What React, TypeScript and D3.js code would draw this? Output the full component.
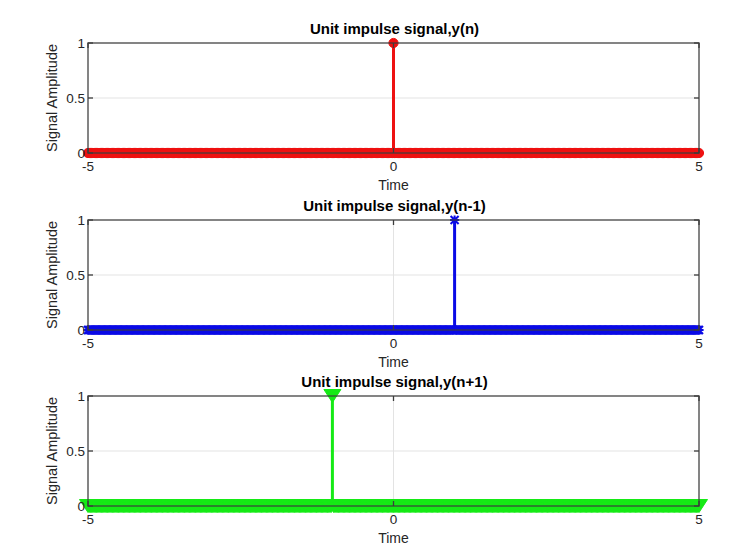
import * as d3 from 'd3';
import React from 'react';

// sample times and where each impulse sits
const timeStep = 0.02;
const timeSamples = d3.range(-5, 5 + timeStep / 2, timeStep).map((t) => Math.round(t * 100) / 100);
const impulseAt = [0, 1, -1];
const titles = ['Unit impulse signal,y(n)', 'Unit impulse signal,y(n-1)', 'Unit impulse signal,y(n+1)'];
const colors = ['#ee1111', '#0a0ae6', '#16ea16'];
const markers = ['circle', 'asterisk', 'triangle'];
const xTicks = [-5, 0, 5];
const yTicks = [0, 0.5, 1];
const yTickLabels = ['0', '0.5', '1'];

const W = 745;
const H = 551;
const axLeft = 88;
const axRight = 699;
const axTops = [43, 220, 396];
const axHeight = 110;
const font = '"Liberation Sans", Arial, sans-serif';
const axisColor = '#3c3c3c';

const Marker = ({ kind, x, y, color }) => {
  if (kind === 'circle') return <circle cx={x} cy={y} r={4.6} fill={color} stroke={color} strokeWidth={1} />;
  if (kind === 'triangle') {
    const w = 8.5, h = 6.5;
    return <path d={`M${x - w},${y - h}L${x + w},${y - h}L${x},${y + h}Z`} fill={color} stroke={color} strokeWidth={1} />;
  }
  const s = 4;
  return (
    <path
      d={`M${x - s},${y - s}L${x + s},${y + s}M${x - s},${y + s}L${x + s},${y - s}M${x},${y - s - 0.6}L${x},${y + s + 0.6}M${x - s - 0.6},${y}L${x + s + 0.6},${y}`}
      stroke={color}
      strokeWidth={2}
      fill="none"
    />
  );
};

const Panel = ({ idx }) => {
  const top = axTops[idx];
  const bottom = top + axHeight;
  const x = d3.scaleLinear().domain([-5, 5]).range([axLeft, axRight]);
  const y = d3.scaleLinear().domain([0, 1]).range([bottom, top]);
  const color = colors[idx];
  const values = timeSamples.map((t) => (Math.abs(t - impulseAt[idx]) < 1e-9 ? 1 : 0));
  const tickLen = 5;
  return (
    <g>
      {/* grid */}
      {xTicks.map((t) => (
        <line key={'gx' + t} x1={x(t)} x2={x(t)} y1={top} y2={bottom} stroke="#e3e3e3" strokeWidth={1} />
      ))}
      {yTicks.map((t) => (
        <line key={'gy' + t} x1={axLeft} x2={axRight} y1={y(t)} y2={y(t)} stroke="#e3e3e3" strokeWidth={1} />
      ))}
      {/* stems */}
      {timeSamples.map((t, i) =>
        values[i] !== 0 ? (
          <line key={'s' + i} x1={x(t)} x2={x(t)} y1={y(0)} y2={y(values[i])} stroke={color} strokeWidth={3} />
        ) : null
      )}
      {timeSamples.map((t, i) => (
        <Marker key={'m' + i} kind={markers[idx]} x={x(t)} y={y(values[i])} color={color} />
      ))}
      {/* box and ticks */}
      <rect x={axLeft} y={top} width={axRight - axLeft} height={axHeight} fill="none" stroke={axisColor} strokeWidth={1.5} strokeOpacity={0.8} />
      {xTicks.map((t) => (
        <g key={'tx' + t}>
          <line x1={x(t)} x2={x(t)} y1={bottom} y2={bottom - tickLen} stroke={axisColor} strokeWidth={1.3} />
          <line x1={x(t)} x2={x(t)} y1={top} y2={top + tickLen} stroke={axisColor} strokeWidth={1.3} />
          <text x={x(t)} y={bottom + 18} textAnchor="middle" fontSize={13.5} fill="#262626" fontFamily={font}>
            {t}
          </text>
        </g>
      ))}
      {yTicks.map((t, i) => (
        <g key={'ty' + t}>
          <line x1={axLeft} x2={axLeft + tickLen} y1={y(t)} y2={y(t)} stroke={axisColor} strokeWidth={1.3} />
          <line x1={axRight} x2={axRight - tickLen} y1={y(t)} y2={y(t)} stroke={axisColor} strokeWidth={1.3} />
          <text x={axLeft - 3} y={y(t) + 4.5} textAnchor="end" fontSize={13.5} fill="#262626" fontFamily={font}>
            {yTickLabels[i]}
          </text>
        </g>
      ))}
      <text x={(axLeft + axRight) / 2 + 1} y={top - 9} textAnchor="middle" fontSize={15} fontWeight="bold" fill="#000" fontFamily={font}>
        {titles[idx]}
      </text>
      <text x={(axLeft + axRight) / 2} y={bottom + 37} textAnchor="middle" fontSize={14} fill="#262626" fontFamily={font}>
        Time
      </text>
      <text
        transform={`translate(57,${(top + bottom) / 2}) rotate(-90)`}
        textAnchor="middle"
        fontSize={14.5}
        fill="#262626"
        fontFamily={font}
      >
        Signal Amplitude
      </text>
    </g>
  );
};

const App = () => (
  <svg width={W} height={H} style={{ position: 'absolute', left: 0, top: 0, background: '#fff' }}>
    <rect width={W} height={H} fill="#fff" />
    {[0, 1, 2].map((i) => (
      <Panel key={i} idx={i} />
    ))}
  </svg>
);

export default App;
